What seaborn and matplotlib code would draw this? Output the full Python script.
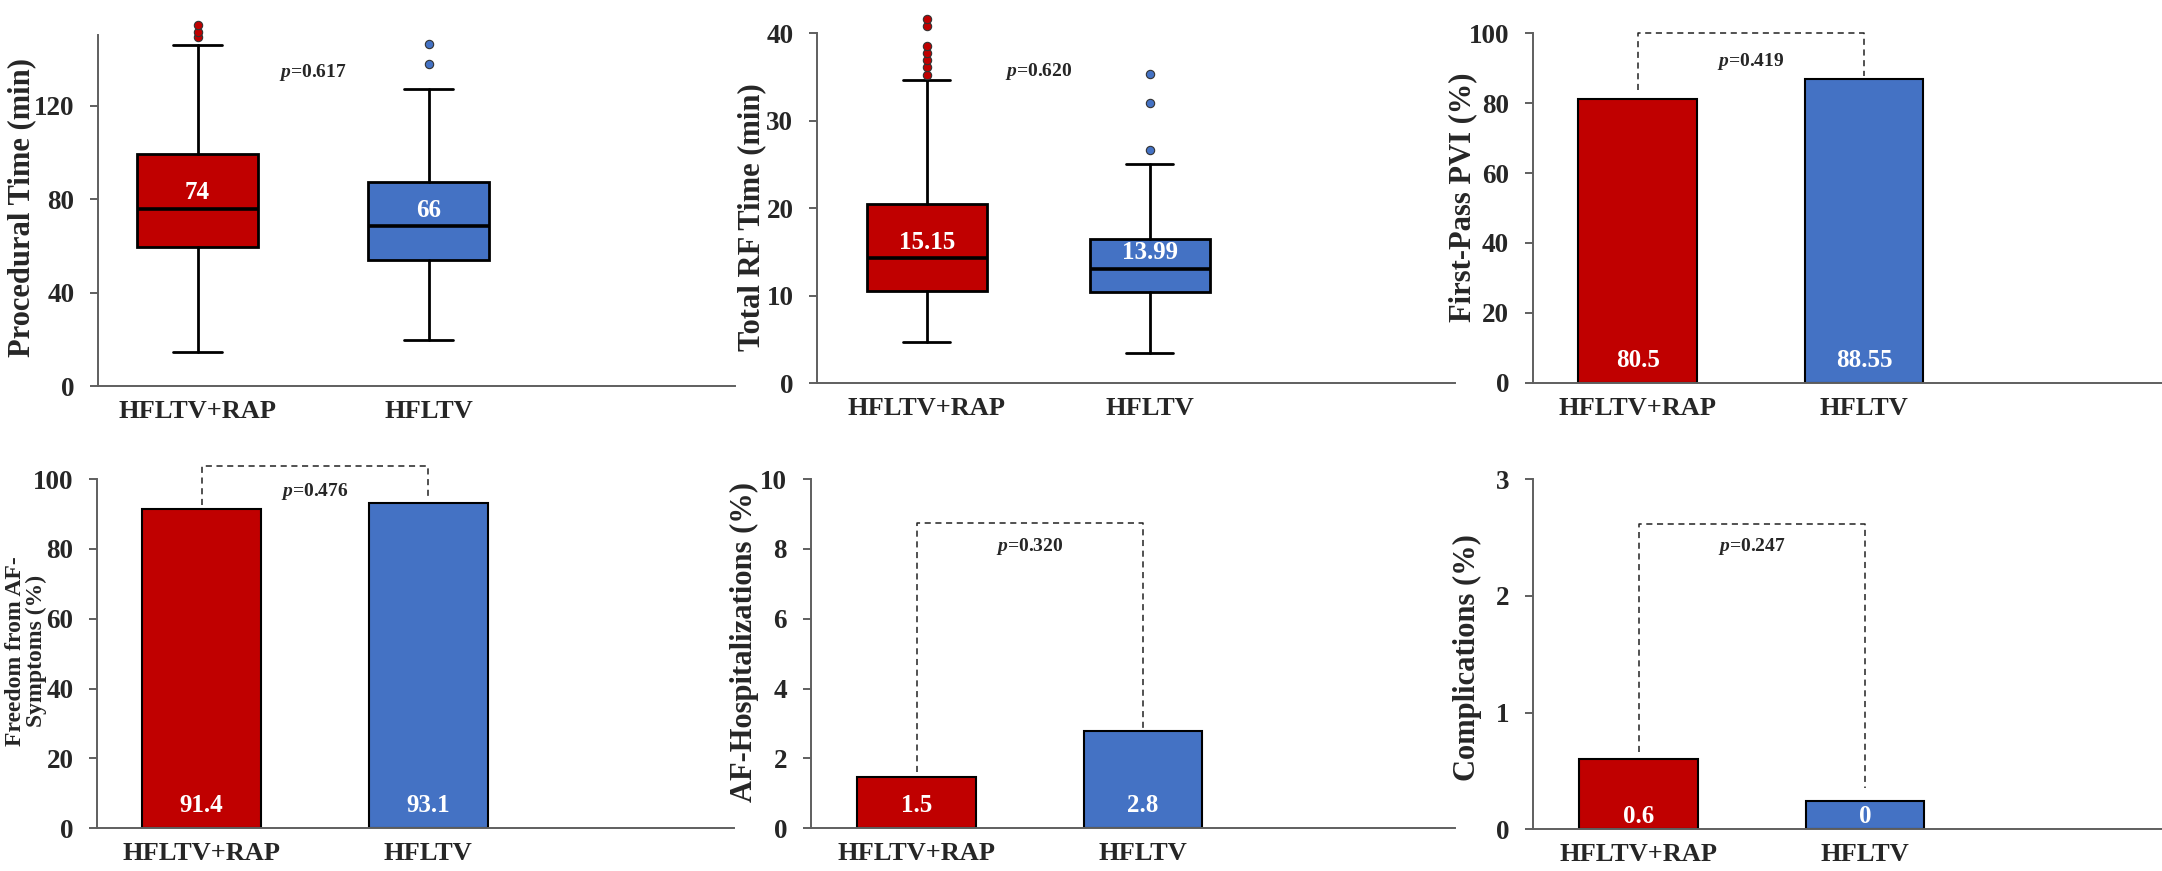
import seaborn as sns
import matplotlib.pyplot as plt

# ---- data ----
groups = ["HFLTV+RAP", "HFLTV"]
colors = ["#C00000", "#4472C4"]

# box summaries: low whisker, q1, median, q3, high whisker
proc_red = [14.6, 59.5, 75.9, 99.1, 146.0]
proc_blue = [19.9, 54.1, 68.5, 87.3, 126.9]
proc_red_out = [149.3, 151.7, 154.6]
proc_blue_out = [137.8, 146.3]
proc_labels = ["74", "66"]

rf_red = [4.75, 10.6, 14.3, 20.5, 34.7]
rf_blue = [3.5, 10.4, 13.1, 16.5, 25.1]
rf_red_out = [35.2, 36.2, 37.0, 37.8, 38.5, 40.8, 41.6]
rf_blue_out = [26.7, 32.0, 35.3]
rf_labels = ["15.15", "13.99"]

# bar heights as drawn, and the printed labels
pvi = [81.3, 86.9]
pvi_labels = ["80.5", "88.55"]
free = [91.4, 93.2]
free_labels = ["91.4", "93.1"]
hosp = [1.48, 2.79]
hosp_labels = ["1.5", "2.8"]
comp = [0.6, 0.245]
comp_labels = ["0.6", "0"]

p_values = ["0.617", "0.620", "0.419", "0.476", "0.320", "0.247"]

# ---- style ----
sns.set_theme(style="ticks")
plt.rcParams["font.family"] = ["Liberation Serif", "DejaVu Serif"]
plt.rcParams["font.weight"] = "bold"
plt.rcParams["mathtext.fontset"] = "custom"
plt.rcParams["mathtext.it"] = "Liberation Serif:italic:bold"
plt.rcParams["mathtext.rm"] = "Liberation Serif:bold"

W, H = 2162, 871
fig = plt.figure(figsize=(W / 100, H / 100), dpi=100)
fig.patch.set_facecolor("white")
spine_col = "#5f5f5f"


def make_ax(left, right, top, bottom, c0, c1, ymax, yticks):
    ax = fig.add_axes([left / W, (H - bottom) / H, (right - left) / W, (bottom - top) / H])
    ax.set_facecolor("white")
    ax.set_ylim(0, ymax)
    ax.set_yticks(yticks)
    for s in ["top", "right"]:
        ax.spines[s].set_visible(False)
    for s in ["left", "bottom"]:
        ax.spines[s].set_color(spine_col)
        ax.spines[s].set_linewidth(1.4)
    ax.tick_params(axis="y", direction="out", length=6, width=1.4, color=spine_col,
                   pad=11, labelsize=19.5)
    ax.tick_params(axis="x", length=0, pad=10, labelsize=19)
    return ax


def fix_x(ax, left, right, c0, c1):
    # categories 0 and 1 land at pixel centres c0, c1
    u = c1 - c0
    ax.set_xlim((left - c0) / u, (right - c0) / u)


def box_panel(ax, red, blue, red_out, blue_out, labels, width, ymax):
    stats = []
    for s, out in [(red, red_out), (blue, blue_out)]:
        stats.append(dict(whislo=s[0], q1=s[1], med=s[2], q3=s[3], whishi=s[4], fliers=out))
    res = ax.bxp(stats, positions=[0, 1], widths=width, patch_artist=True, capwidths=0.21,
                 boxprops=dict(edgecolor="black", linewidth=2),
                 medianprops=dict(color="black", linewidth=2.6),
                 whiskerprops=dict(color="black", linewidth=2),
                 capprops=dict(color="black", linewidth=2),
                 flierprops=dict(marker="o", markersize=6, markeredgecolor="#333333",
                                 markeredgewidth=0.8))
    for i in range(2):
        res["boxes"][i].set_facecolor(colors[i])
        res["fliers"][i].set_markerfacecolor(colors[i])
        res["fliers"][i].set_clip_on(False)
        ax.text(i, stats[i]["med"] + 0.045 * ymax, labels[i], color="white",
                ha="center", va="center", fontsize=18, fontweight="bold")
    ax.set_xticks([0, 1], groups)


def bar_panel(ax, vals, labels, lab_off=11.5):
    sns.barplot(x=groups, y=vals, hue=groups, palette=colors, saturation=1, width=0.525,
                edgecolor="black", linewidth=1.5, legend=False, ax=ax)
    for i in range(2):
        ax.annotate(labels[i], xy=(i, 0), xytext=(0, lab_off), textcoords="offset points",
                    ha="center", va="baseline", color="white", fontsize=18, fontweight="bold")
    ax.set_xlabel("")
    ax.set_ylabel("")


def bracket(ax, top, b0, b1):
    ax.plot([0, 0, 1, 1], [b0, top, top, b1], color="#222222", lw=1.1,
            ls=(0, (4, 3)), clip_on=False)


def p_text(ax, y, p):
    ax.text(0.5, y, r"$p$=" + p, ha="center", va="center", fontsize=14)


# top row
ax1 = make_ax(98, 735, 35.5, 386, 197.5, 428.6, 150, [0, 40, 80, 120])
box_panel(ax1, proc_red, proc_blue, proc_red_out, proc_blue_out, proc_labels, 0.524, 150)
fix_x(ax1, 98, 735, 197.5, 428.6)
p_text(ax1, 134, p_values[0])

ax2 = make_ax(817, 1455, 33.3, 383.3, 926.7, 1149.7, 40, [0, 10, 20, 30, 40])
box_panel(ax2, rf_red, rf_blue, rf_red_out, rf_blue_out, rf_labels, 0.538, 40)
fix_x(ax2, 817, 1455, 926.7, 1149.7)
p_text(ax2, 35.6, p_values[1])

ax3 = make_ax(1532.7, 2162, 33.3, 382.7, 1637.8, 1864, 100, range(0, 101, 20))
bar_panel(ax3, pvi, pvi_labels)
fix_x(ax3, 1532.7, 2162, 1637.8, 1864)
bracket(ax3, 100, 83.8, 87.8)
p_text(ax3, 92, p_values[2])

# bottom row
ax4 = make_ax(97, 734, 479, 828.3, 201.7, 428.2, 100, range(0, 101, 20))
bar_panel(ax4, free, free_labels)
fix_x(ax4, 97, 734, 201.7, 428.2)
bracket(ax4, 103.8, 92.6, 95.1)
p_text(ax4, 96.4, p_values[3])

ax5 = make_ax(810.7, 1455, 479, 828.3, 916.5, 1143, 10, range(0, 11, 2))
bar_panel(ax5, hosp, hosp_labels)
fix_x(ax5, 810.7, 1455, 916.5, 1143)
bracket(ax5, 8.73, 1.62, 2.86)
p_text(ax5, 8.08, p_values[4])

ax6 = make_ax(1533.3, 2162, 479.3, 829.3, 1638.8, 1865, 3, [0, 1, 2, 3])
bar_panel(ax6, comp, comp_labels, lab_off=4.3)
fix_x(ax6, 1533.3, 2162, 1638.8, 1865)
bracket(ax6, 2.614, 0.665, 0.351)
p_text(ax6, 2.42, p_values[5])

for ax in [ax1, ax2, ax3, ax4, ax5, ax6]:
    for lab in ax.get_xticklabels() + ax.get_yticklabels():
        lab.set_fontweight("bold")

# y labels placed at their pixel centres
ylabels = [("Procedural Time (min)", 22, 207.5, 22, 1.0), ("Total RF Time (min)", 752, 217.5, 22, 1.0),
           ("First-Pass PVI (%)", 1463, 197.5, 22, 1.0),
           ("Freedom from AF-\nSymptoms (%)", 26, 651, 17, 1.0),
           ("AF-Hospitalizations (%)", 744, 642, 22, 1.0), ("Complications (%)", 1467, 658, 22, 1.0)]
for txt, x, y, fs, ls in ylabels:
    fig.text(x / W, 1 - y / H, txt, rotation=90, ha="center", va="center",
             fontsize=fs, fontweight="bold", linespacing=ls)

fig.savefig("out.png", dpi=100)
